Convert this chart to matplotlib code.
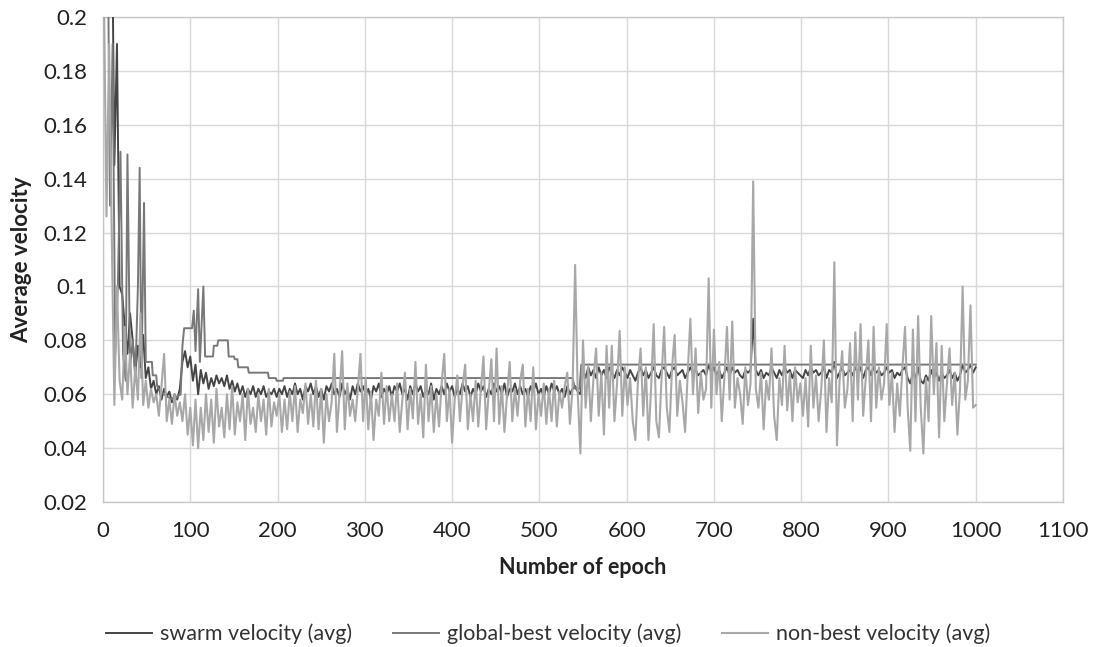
import matplotlib
matplotlib.use("Agg")
import matplotlib.pyplot as plt

plt.rcParams['font.family'] = ['Lato', 'DejaVu Sans']

# sample epochs for swarm / non-best series (every 3rd epoch)
epochs = list(range(1, 1001, 3)) + [1000]

swarm = [
    0.21, 0.27, 0.26, 0.25, 0.145, 0.19, 0.10, 0.097, 0.085, 0.075,
    0.09, 0.08, 0.068, 0.078, 0.07, 0.082, 0.066, 0.07, 0.062, 0.065,
    0.06, 0.063, 0.058, 0.062, 0.059, 0.061, 0.057, 0.06, 0.058, 0.062,
    0.072, 0.076, 0.07, 0.074, 0.065, 0.071, 0.06, 0.069, 0.064, 0.068,
    0.062, 0.066, 0.063, 0.067, 0.064, 0.066, 0.063, 0.067, 0.062, 0.065,
    0.061, 0.064, 0.06, 0.063, 0.059, 0.062, 0.06, 0.063, 0.059, 0.062,
    0.06, 0.063, 0.059, 0.061, 0.06, 0.062, 0.059, 0.062, 0.06, 0.063,
    0.059, 0.062, 0.06, 0.064, 0.06, 0.062, 0.058, 0.063, 0.061, 0.064,
    0.06, 0.063, 0.059, 0.062, 0.058, 0.063, 0.061, 0.064, 0.06, 0.062,
    0.059, 0.064, 0.06, 0.062, 0.058, 0.063, 0.06, 0.064, 0.061, 0.063,
    0.06, 0.062, 0.058, 0.063, 0.061, 0.064, 0.059, 0.062, 0.06, 0.063,
    0.059, 0.063, 0.061, 0.064, 0.06, 0.062, 0.058, 0.063, 0.06, 0.064,
    0.061, 0.063, 0.059, 0.062, 0.06, 0.064, 0.058, 0.062, 0.06, 0.063,
    0.06, 0.064, 0.061, 0.063, 0.059, 0.062, 0.06, 0.064, 0.061, 0.063,
    0.059, 0.062, 0.06, 0.064, 0.061, 0.063, 0.059, 0.062, 0.06, 0.064,
    0.061, 0.063, 0.06, 0.064, 0.059, 0.062, 0.061, 0.064, 0.06, 0.063,
    0.06, 0.062, 0.059, 0.063, 0.061, 0.064, 0.06, 0.062, 0.059, 0.063,
    0.06, 0.064, 0.061, 0.063, 0.06, 0.062, 0.059, 0.063, 0.06, 0.062,
    0.063, 0.061, 0.06, 0.069, 0.066, 0.07, 0.067, 0.069, 0.066, 0.07,
    0.067, 0.069, 0.066, 0.07, 0.068, 0.066, 0.069, 0.067, 0.07, 0.068,
    0.066, 0.069, 0.067, 0.065, 0.068, 0.07, 0.067, 0.069, 0.066, 0.068,
    0.07, 0.067, 0.066, 0.069, 0.07, 0.068, 0.066, 0.069, 0.07, 0.067,
    0.068, 0.069, 0.066, 0.068, 0.07, 0.068, 0.069, 0.067, 0.068, 0.069,
    0.067, 0.071, 0.068, 0.07, 0.067, 0.069, 0.066, 0.068, 0.07, 0.067,
    0.07, 0.068, 0.069, 0.067, 0.066, 0.069, 0.068, 0.069, 0.088, 0.069,
    0.067, 0.069, 0.066, 0.068, 0.067, 0.07, 0.068, 0.066, 0.069, 0.067,
    0.07, 0.068, 0.069, 0.066, 0.069, 0.068, 0.067, 0.066, 0.069, 0.067,
    0.07, 0.068, 0.069, 0.067, 0.068, 0.07, 0.066, 0.069, 0.068, 0.072,
    0.066, 0.068, 0.07, 0.067, 0.068, 0.069, 0.067, 0.07, 0.068, 0.07,
    0.066, 0.069, 0.07, 0.067, 0.07, 0.068, 0.069, 0.067, 0.068, 0.07,
    0.068, 0.069, 0.066, 0.068, 0.067, 0.069, 0.07, 0.066, 0.064, 0.068,
    0.066, 0.07, 0.065, 0.064, 0.067, 0.065, 0.069, 0.066, 0.068, 0.065,
    0.068, 0.066, 0.067, 0.069, 0.066, 0.068, 0.065, 0.067, 0.071, 0.068,
    0.069, 0.071, 0.068, 0.07,
]

non_best = [
    0.21, 0.126, 0.19, 0.12, 0.056, 0.10, 0.065, 0.058, 0.085, 0.06,
    0.075, 0.055, 0.07, 0.058, 0.09, 0.056, 0.065, 0.055, 0.062, 0.057,
    0.06, 0.052, 0.063, 0.075, 0.05, 0.058, 0.049, 0.06, 0.052, 0.057,
    0.05, 0.06, 0.045, 0.055, 0.041, 0.058, 0.04, 0.055, 0.043, 0.06,
    0.046, 0.058, 0.042, 0.062, 0.048, 0.055, 0.044, 0.06, 0.047, 0.063,
    0.045, 0.057, 0.05, 0.06, 0.043, 0.062, 0.049, 0.055, 0.046, 0.06,
    0.05, 0.058, 0.045, 0.062, 0.048, 0.057, 0.052, 0.06, 0.046, 0.058,
    0.047, 0.061, 0.05, 0.063, 0.046, 0.058, 0.053, 0.064, 0.049, 0.06,
    0.048, 0.065, 0.047, 0.062, 0.042, 0.06, 0.05, 0.057, 0.075, 0.046,
    0.06, 0.076, 0.047, 0.064, 0.052, 0.058, 0.05, 0.062, 0.075, 0.05,
    0.066, 0.047, 0.061, 0.043, 0.058, 0.052, 0.068, 0.049, 0.063, 0.05,
    0.06, 0.05, 0.064, 0.046, 0.058, 0.068, 0.047, 0.062, 0.051, 0.072,
    0.049, 0.06, 0.044, 0.071, 0.05, 0.063, 0.046, 0.06, 0.048, 0.064,
    0.075, 0.05, 0.062, 0.042, 0.058, 0.067, 0.05, 0.063, 0.071, 0.047,
    0.06, 0.05, 0.065, 0.048, 0.062, 0.074, 0.047, 0.061, 0.073, 0.05,
    0.077, 0.049, 0.063, 0.046, 0.06, 0.072, 0.05, 0.062, 0.052, 0.065,
    0.071, 0.048, 0.062, 0.05, 0.07, 0.047, 0.06, 0.052, 0.064, 0.049,
    0.062, 0.05, 0.065, 0.048, 0.061, 0.055, 0.063, 0.068, 0.049, 0.062,
    0.108, 0.06, 0.038, 0.08, 0.055, 0.07, 0.05, 0.066, 0.077, 0.052,
    0.068, 0.045, 0.078, 0.055, 0.078, 0.05, 0.064, 0.0835, 0.052, 0.07,
    0.056, 0.066, 0.05, 0.043, 0.065, 0.077, 0.052, 0.07, 0.043, 0.062,
    0.086, 0.05, 0.044, 0.066, 0.085, 0.055, 0.046, 0.07, 0.082, 0.052,
    0.065, 0.057, 0.046, 0.068, 0.088, 0.06, 0.077, 0.053, 0.068, 0.058,
    0.062, 0.103, 0.055, 0.084, 0.06, 0.072, 0.05, 0.066, 0.085, 0.058,
    0.087, 0.055, 0.066, 0.06, 0.049, 0.07, 0.056, 0.064, 0.139, 0.062,
    0.055, 0.068, 0.047, 0.065, 0.058, 0.077, 0.052, 0.043, 0.066, 0.056,
    0.078, 0.054, 0.068, 0.05, 0.07, 0.057, 0.064, 0.052, 0.066, 0.048,
    0.078, 0.055, 0.067, 0.05, 0.062, 0.080, 0.046, 0.066, 0.057, 0.109,
    0.041, 0.065, 0.076, 0.055, 0.062, 0.079, 0.05, 0.083, 0.058, 0.086,
    0.052, 0.066, 0.080, 0.05, 0.085, 0.055, 0.07, 0.058, 0.064, 0.086,
    0.056, 0.068, 0.046, 0.064, 0.052, 0.07, 0.085, 0.055, 0.039, 0.084,
    0.05, 0.089, 0.055, 0.038, 0.066, 0.05, 0.089, 0.06, 0.079, 0.044,
    0.078, 0.05, 0.064, 0.077, 0.056, 0.068, 0.045, 0.062, 0.100, 0.058,
    0.065, 0.093, 0.055, 0.056,
]

epochs = epochs[:len(swarm)]

# global-best velocity: change points (mostly step-like)
gb_epochs = [1, 5, 8, 11, 14, 17, 20, 23, 26, 28, 31, 34, 37, 40, 42, 44, 47, 49,
             56, 57, 61, 62, 66, 74, 80, 89, 91, 93, 102, 104, 106, 109, 111, 115,
             117, 126, 127, 131, 132, 143, 144, 150, 151, 154, 155, 166, 167, 189,
             190, 198, 199, 206, 207, 538, 541, 546, 548, 1000]
gb_values = [0.22, 0.25, 0.13, 0.19, 0.075, 0.10, 0.15, 0.075, 0.065, 0.149, 0.07,
             0.08, 0.066, 0.10, 0.144, 0.066, 0.131, 0.072,
             0.072, 0.067, 0.067, 0.063, 0.061, 0.059, 0.058, 0.06, 0.078, 0.0845,
             0.0845, 0.091, 0.076, 0.099, 0.072, 0.1,
             0.074, 0.074, 0.078, 0.078, 0.080, 0.080, 0.074, 0.074, 0.073, 0.073,
             0.070, 0.070, 0.068, 0.068,
             0.066, 0.066, 0.065, 0.065, 0.066, 0.066, 0.062, 0.062, 0.071, 0.071]

x_ticks = list(range(0, 1101, 100))
y_ticks = [0.02, 0.04, 0.06, 0.08, 0.1, 0.12, 0.14, 0.16, 0.18, 0.2]
y_tick_labels = ['0.02', '0.04', '0.06', '0.08', '0.1', '0.12', '0.14', '0.16', '0.18', '0.2']

c_swarm = '#454545'
c_gb = '#787878'
c_nb = '#a8a8a8'

fig = plt.figure(figsize=(10.97, 6.47), dpi=100)
ax = fig.add_axes([0.0939, 0.2241, 0.8751, 0.7496])

ax.plot(epochs, swarm, color=c_swarm, lw=1.4, label='swarm velocity (avg)', zorder=3)
ax.plot(gb_epochs, gb_values, color=c_gb, lw=1.4, label='global-best velocity (avg)', zorder=4)
ax.plot(epochs, non_best, color=c_nb, lw=1.5, label='non-best velocity (avg)', zorder=5)

ax.set_xlim(0, 1100)
ax.set_ylim(0.02, 0.2)
ax.set_xticks(x_ticks)
ax.set_yticks(y_ticks)
ax.set_yticklabels(y_tick_labels)
ax.grid(True, color='#d9d9d9', lw=1.0, zorder=0)
ax.set_axisbelow(True)
for s in ax.spines.values():
    s.set_color('#c8c8c8')
    s.set_linewidth(1.0)
ax.tick_params(length=0, labelsize=16, colors='#222222')
ax.tick_params(axis='x', pad=14)
ax.tick_params(axis='y', pad=11)

ax.set_xlabel('Number of epoch', fontsize=15.5, fontweight='bold', labelpad=11, color='#222222')
ax.set_ylabel('Average velocity', fontsize=16, fontweight='bold', labelpad=8, color='#222222')

fig.legend(loc='center', bbox_to_anchor=(0.5, 0.02), ncol=3, frameon=False,
           fontsize=15.5, handlelength=2.1, columnspacing=1.9, handletextpad=0.4,
           labelcolor='#333333')

fig.savefig('out.png', dpi=100, facecolor='white')
